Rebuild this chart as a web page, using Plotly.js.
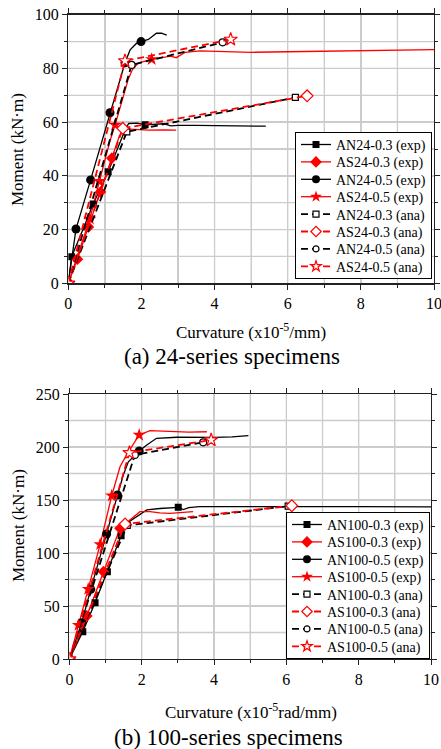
<!DOCTYPE html>
<html><head><meta charset="utf-8">
<script src="https://cdn.plot.ly/plotly-3.0.1.min.js"></script>
<style>html,body{margin:0;padding:0;background:#fff}#chart{width:441px;height:749px}</style>
</head><body><div id="chart"></div>
<script>
// ================= DATA =================
const names24 = ['AN24-0.3 (exp)', 'AS24-0.3 (exp)', 'AN24-0.5 (exp)', 'AS24-0.5 (exp)',
                 'AN24-0.3 (ana)', 'AS24-0.3 (ana)', 'AN24-0.5 (ana)', 'AS24-0.5 (ana)'];
const names100 = ['AN100-0.3 (exp)', 'AS100-0.3 (exp)', 'AN100-0.5 (exp)', 'AS100-0.5 (exp)',
                  'AN100-0.3 (ana)', 'AS100-0.3 (ana)', 'AN100-0.5 (ana)', 'AS100-0.5 (ana)'];
const xRange = [0, 10];
const yRange24 = [0, 100];
const yRange100 = [0, 250];
const xTickVals = [0, 2, 4, 6, 8, 10];
const yTick24 = [0, 20, 40, 60, 80, 100];
const yTick100 = [0, 50, 100, 150, 200, 250];
const xGridVals = [1, 2, 3, 4, 5, 6, 7, 8, 9];
const yGrid24 = [10, 20, 30, 40, 50, 60, 70, 80, 90];
const yGrid100 = [25, 50, 75, 100, 125, 150, 175, 200, 225];

// ---- 24-series, experimental curves (curvature x1e-5/mm, moment kN·m)
const AN24_03_exp_x = [0, 0.09, 0.4, 0.68, 1.09, 1.35, 1.55, 1.65, 1.9, 2.1, 2.6, 2.8, 3.0, 3.5, 4.2, 5.0, 5.4];
const AN24_03_exp_y = [0, 9.9, 20, 29.5, 41.5, 50, 57, 59.5, 59.6, 59, 59.4, 58.6, 58.8, 58.8, 58.7, 58.6, 58.5];
const AN24_03_mk_x = [0.09, 0.68, 1.09, 2.1];
const AN24_03_mk_y = [9.9, 29.5, 41.5, 59];

const AS24_03_exp_x = [0, 0.25, 0.55, 0.88, 1.19, 1.4, 1.55, 1.8, 2.2, 2.6, 2.95];
const AS24_03_exp_y = [0, 9, 21, 34, 46.6, 55, 57.5, 57.2, 57, 57.1, 57];
const AS24_03_mk_x = [0.25, 0.55, 0.88, 1.19];
const AS24_03_mk_y = [9, 21, 34, 46.6];

const AN24_05_exp_x = [0, 0.21, 0.61, 1.14, 1.55, 1.69, 1.87, 1.99, 2.19, 2.41, 2.55, 2.69];
const AN24_05_exp_y = [0, 20.2, 38.5, 63.5, 82.1, 86.9, 89.4, 90, 90.8, 93.1, 93.1, 92.4];
const AN24_05_mk_x = [0.21, 0.61, 1.14, 1.55, 1.99];
const AN24_05_mk_y = [20.2, 38.5, 63.5, 82.1, 90];

const AS24_05_exp_x = [0, 0.3, 0.59, 0.85, 1.14, 1.28, 1.64, 1.75, 1.91, 2.28, 2.6, 2.8, 2.95, 3.2, 3.6, 4.0, 5.0, 6.0, 7.0, 8.0, 9.0, 10];
const AS24_05_exp_y = [0, 12, 24, 38, 53, 59, 76, 79.5, 82, 83.4, 84, 84.6, 84, 86, 86.5, 86.3, 86, 86.2, 86.4, 86.6, 86.8, 87];
const AS24_05_mk_x = [0.59, 0.85, 1.28, 2.28];
const AS24_05_mk_y = [24, 38, 59, 83.4];

// ---- 24-series, analytical curves
const AN24_03_ana_x = [0, 1.6, 6.21];
const AN24_03_ana_y = [0, 56.4, 69.2];
const AS24_03_ana_x = [0, 1.49, 6.53];
const AS24_03_ana_y = [0, 57.7, 69.8];
const AN24_05_ana_x = [0, 1.73, 4.22];
const AN24_05_ana_y = [0, 81.3, 89.7];
const AS24_05_ana_x = [0, 1.55, 4.44];
const AS24_05_ana_y = [0, 82.8, 90.8];

// ---- 100-series, experimental curves (curvature x1e-5 rad/mm)
const AN100_03_exp_x = [0, 0.37, 0.71, 1.05, 1.43, 1.63, 1.91, 2.14, 2.5, 3.01, 3.15, 3.3, 3.6, 4.5, 6, 8, 10];
const AN100_03_exp_y = [0, 25.8, 53.1, 82.4, 116.3, 129, 135.8, 140.6, 142, 143.1, 141, 142.8, 143.8, 144, 143.8, 143.7, 143.6];
const AN100_03_mk_x = [0.37, 0.71, 1.05, 1.43, 3.01];
const AN100_03_mk_y = [25.8, 53.1, 82.4, 116.3, 143.1];

const AS100_03_exp_x = [0, 0.15, 0.48, 0.94, 1.4, 1.63, 1.95, 2.23, 2.5, 2.78, 3.1, 3.42];
const AS100_03_exp_y = [0, 12, 40.6, 82.4, 123.3, 130, 139, 139, 137.8, 137.4, 138.5, 139];
const AS100_03_mk_x = [0.48, 0.94, 1.4];
const AS100_03_mk_y = [40.6, 82.4, 123.3];

const AN100_05_exp_x = [0, 0.34, 0.59, 1.03, 1.33, 1.49, 1.63, 1.93, 2.14, 2.41, 2.97, 3.5, 4.0, 4.5, 4.95];
const AN100_05_exp_y = [0, 34.3, 65.7, 117.9, 154.7, 173.6, 186, 196.2, 201.9, 208.2, 209.2, 208.8, 209, 209.6, 210.7];
const AN100_05_mk_x = [0.34, 0.59, 1.03, 1.33, 1.93];
const AN100_05_mk_y = [34.3, 65.7, 117.9, 154.7, 196.2];

const AS100_05_exp_x = [0, 0.25, 0.52, 0.85, 1.17, 1.4, 1.58, 1.93, 2.23, 2.78, 3.3, 3.8];
const AS100_05_exp_y = [0, 32, 66, 108.2, 154, 181.4, 192.5, 211.3, 215.4, 214.5, 214, 214.4];
const AS100_05_mk_x = [0.25, 0.52, 0.85, 1.17, 1.93];
const AS100_05_mk_y = [32, 66, 108.2, 154, 211.3];

// ---- 100-series, analytical curves
const AN100_03_ana_x = [0, 1.6, 6.05];
const AN100_03_ana_y = [0, 126, 144.2];
const AS100_03_ana_x = [0, 1.54, 6.15];
const AS100_03_ana_y = [0, 127.4, 144.6];
const AN100_05_ana_x = [0, 1.81, 3.7];
const AN100_05_ana_y = [0, 192.5, 204.4];
const AS100_05_ana_x = [0, 1.66, 3.92];
const AS100_05_ana_y = [0, 194.6, 206.6];

// ================= STYLES =================
const RED = '#ff0000', BLK = '#000000';
const FONT = "'Liberation Serif', 'Times New Roman', serif";
const GRID = '#cccccc';
const expStyle = [
  {color: BLK, symbol: 'square', size: 7, lsize: 7},
  {color: RED, symbol: 'diamond', size: 9, lsize: 9},
  {color: BLK, symbol: 'circle', size: 9, lsize: 8},
  {color: RED, symbol: 'star', size: 10, lsize: 9}
];
const anaStyle = [
  {color: BLK, symbol: 'square', size: 6, lsize: 6},
  {color: RED, symbol: 'diamond', size: 9, lsize: 8},
  {color: BLK, symbol: 'circle', size: 7, lsize: 6},
  {color: RED, symbol: 'star', size: 10, lsize: 8}
];
const DASH = '7px,4px';

// light grid drawn as segments at the grid values, through the axes' own scales
function gridTrace(xVals, yVals, xr, yr, xa, ya) {
  const gx = [], gy = [];
  xVals.forEach(v => { gx.push(v, v, null); gy.push(yr[0], yr[1], null); });
  yVals.forEach(v => { gx.push(xr[0], xr[1], null); gy.push(v, v, null); });
  return {x: gx, y: gy, xaxis: xa, yaxis: ya, mode: 'lines', type: 'scatter',
    line: {color: GRID, width: 1.3}, showlegend: false, hoverinfo: 'skip', connectgaps: false};
}

function buildPanel(names, exps, anas, xa, ya, legendId) {
  const lines = [], marks = [], anaTr = [], dummies = [];
  exps.forEach((e, i) => {
    const s = expStyle[i];
    lines.push({x: e[0], y: e[1], xaxis: xa, yaxis: ya, mode: 'lines', type: 'scatter',
      line: {color: s.color, width: 1.3}, showlegend: false, hoverinfo: 'skip'});
    marks.push({x: e[2], y: e[3], xaxis: xa, yaxis: ya, mode: 'markers', type: 'scatter',
      marker: {color: s.color, symbol: s.symbol, size: s.size, line: {width: 0}},
      showlegend: false, hoverinfo: 'skip'});
    dummies.push({x: [null], y: [null], xaxis: xa, yaxis: ya, mode: 'lines+markers', type: 'scatter',
      name: names[i], legend: legendId,
      line: {color: s.color, width: 1.3},
      marker: {color: s.color, symbol: s.symbol, size: s.lsize, line: {width: 0}}});
  });
  anas.forEach((a, i) => {
    const s = anaStyle[i];
    anaTr.push({x: a[0], y: a[1], xaxis: xa, yaxis: ya, mode: 'lines+markers', type: 'scatter',
      showlegend: false, hoverinfo: 'skip',
      line: {color: s.color, width: 1.8, dash: DASH},
      marker: {color: '#ffffff', symbol: s.symbol, size: s.size, line: {color: s.color, width: 1.2}}});
    dummies.push({x: [null], y: [null], xaxis: xa, yaxis: ya, mode: 'lines+markers', type: 'scatter',
      name: names[4 + i], legend: legendId,
      line: {color: s.color, width: 1.8, dash: DASH},
      marker: {color: '#ffffff', symbol: s.symbol, size: s.lsize, line: {color: s.color, width: 1.2}}});
  });
  return [...lines, ...marks, ...anaTr, ...dummies];
}

const traces = [
  gridTrace(xGridVals, yGrid24, xRange, yRange24, 'x', 'y'),
  gridTrace(xGridVals, yGrid100, xRange, yRange100, 'x2', 'y2'),
  ...buildPanel(names24,
    [[AN24_03_exp_x, AN24_03_exp_y, AN24_03_mk_x, AN24_03_mk_y],
     [AS24_03_exp_x, AS24_03_exp_y, AS24_03_mk_x, AS24_03_mk_y],
     [AN24_05_exp_x, AN24_05_exp_y, AN24_05_mk_x, AN24_05_mk_y],
     [AS24_05_exp_x, AS24_05_exp_y, AS24_05_mk_x, AS24_05_mk_y]],
    [[AN24_03_ana_x, AN24_03_ana_y], [AS24_03_ana_x, AS24_03_ana_y],
     [AN24_05_ana_x, AN24_05_ana_y], [AS24_05_ana_x, AS24_05_ana_y]],
    'x', 'y', 'legend'),
  ...buildPanel(names100,
    [[AN100_03_exp_x, AN100_03_exp_y, AN100_03_mk_x, AN100_03_mk_y],
     [AS100_03_exp_x, AS100_03_exp_y, AS100_03_mk_x, AS100_03_mk_y],
     [AN100_05_exp_x, AN100_05_exp_y, AN100_05_mk_x, AN100_05_mk_y],
     [AS100_05_exp_x, AS100_05_exp_y, AS100_05_mk_x, AS100_05_mk_y]],
    [[AN100_03_ana_x, AN100_03_ana_y], [AS100_03_ana_x, AS100_03_ana_y],
     [AN100_05_ana_x, AN100_05_ana_y], [AS100_05_ana_x, AS100_05_ana_y]],
    'x2', 'y2', 'legend2')
];

// ================= LAYOUT =================
const W = 441, H = 749;
const px = v => v / W, py = v => 1 - v / H;
function axisBase(extra, minorDtick) {
  return Object.assign({
    showline: true, linecolor: '#222', linewidth: 1.4, mirror: 'ticks',
    ticks: 'outside', ticklen: 5, tickwidth: 1, tickcolor: '#222',
    showgrid: true, gridcolor: GRID, gridwidth: 1.3, zeroline: false,
    tickfont: {family: FONT, size: 16, color: '#000'}, ticklabeloverflow: 'allow',
    minor: {dtick: minorDtick, ticks: 'outside', ticklen: 3, tickwidth: 1, tickcolor: '#222', showgrid: true, gridcolor: GRID, gridwidth: 1.3}
  }, extra);
}
const legendBase = {
  xanchor: 'left', yanchor: 'top', bgcolor: '#ffffff', bordercolor: '#000', borderwidth: 1,
  font: {family: FONT, size: 14, color: '#000'}, itemwidth: 30, tracegroupgap: 0
};
const annFont = s => ({family: FONT, size: s, color: '#000'});
const layout = {
  width: W, height: H, margin: {l: 0, r: 0, t: 0, b: 0},
  showlegend: true,
  xaxis: axisBase({domain: [px(68.3), px(434)], range: xRange, tickvals: xTickVals, anchor: 'y'}, 1),
  yaxis: axisBase({domain: [py(283.3), py(14.7)], range: yRange24, tickvals: yTick24, anchor: 'x'}, 10),
  xaxis2: axisBase({domain: [px(69.4), px(431)], range: xRange, tickvals: xTickVals, anchor: 'y2'}, 1),
  yaxis2: axisBase({domain: [py(659), py(394)], range: yRange100, tickvals: yTick100, anchor: 'x2'}, 25),
  legend: Object.assign({}, legendBase, {x: px(295), y: py(132)}),
  legend2: Object.assign({}, legendBase, {x: px(286), y: py(512)}),
  annotations: [
    {text: 'Moment (kN·m)', x: px(18), y: py(150), textangle: -90},
    {text: 'Moment (kN·m)', x: px(18), y: py(526), textangle: -90},
    {text: 'Curvature (x10<sup>-5</sup>/mm)', x: px(251), y: py(331)},
    {text: 'Curvature (x10<sup>-5</sup>rad/mm)', x: px(251), y: py(711)},
    {text: '(a) 24-series specimens', x: px(232), y: py(357), font: annFont(23)},
    {text: '(b) 100-series specimens', x: px(229), y: py(737), font: annFont(23)}
  ].map(a => Object.assign({xref: 'paper', yref: 'paper', showarrow: false, xanchor: 'center', yanchor: 'middle', font: annFont(17)}, a))
};

const gd = document.getElementById('chart');
Plotly.newPlot(gd, traces, layout, {displayModeBar: false, staticPlot: true}).then(() => {
  // tighten legend row spacing to match the reference
  ['legend', 'legend2'].forEach(id => {
    const lg = gd.querySelector('g.' + id);
    if (!lg) return;
    const items = lg.querySelectorAll('g.traces');
    const first = 12.5, gap = 17.4, pad = 12;
    items.forEach((t, i) => {
      const tr = t.getAttribute('transform') || '';
      const m = tr.match(/translate\(\s*([-\d.e]+)[\s,]+([-\d.e]+)\s*\)/);
      const x0 = m ? m[1] : 1;
      t.setAttribute('transform', 'translate(' + x0 + ',' + (first + gap * i) + ')');
    });
    const bg = lg.querySelector('rect.bg');
    if (bg && items.length) bg.setAttribute('height', first + gap * (items.length - 1) + pad);
  });
});
</script>
</body></html>
